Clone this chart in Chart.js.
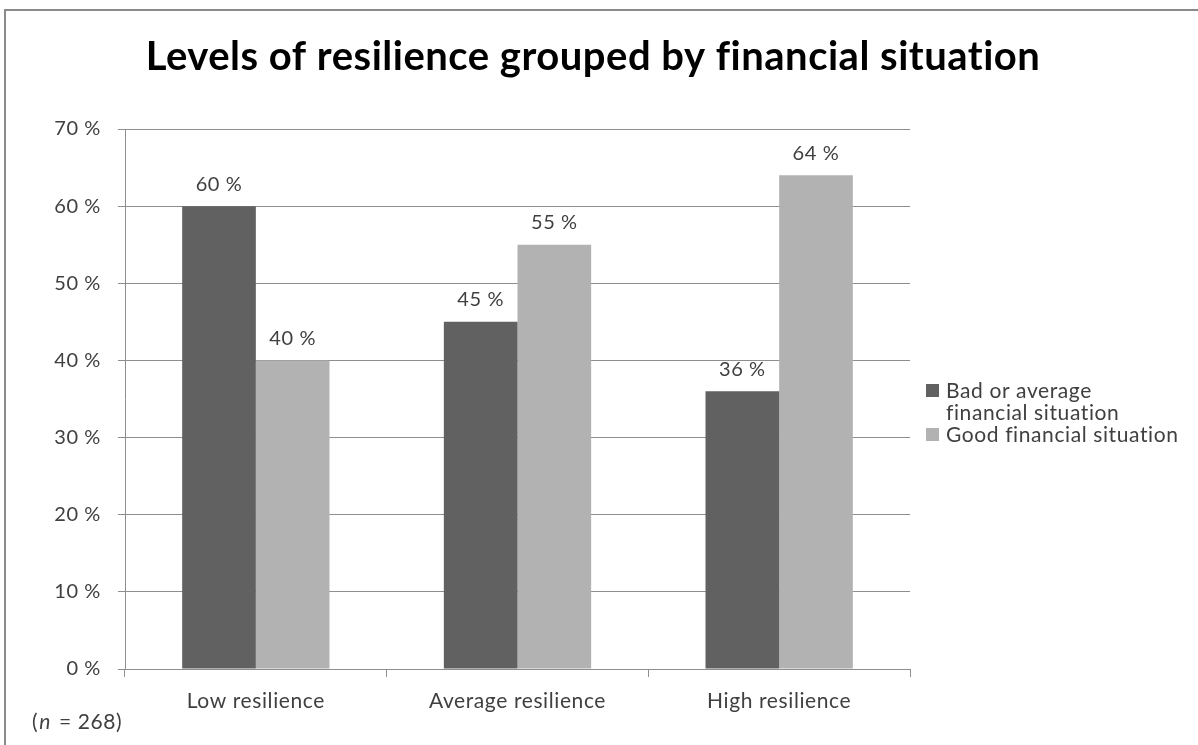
<!DOCTYPE html>
<html>
<head>
<meta charset="utf-8">
<script src="https://cdn.jsdelivr.net/npm/chart.js@4/dist/chart.umd.min.js"></script>
<style>
  html, body { margin: 0; padding: 0; background: #fff; }
  #wrap { position: relative; width: 1198px; height: 745px; }
</style>
</head>
<body>
<div id="wrap"><canvas id="c" width="1198" height="745"></canvas></div>
<script>
'use strict';

/* datos */
const categories = ['Low resilience', 'Average resilience', 'High resilience'];
const seriesNames = [['Bad or average', 'financial situation'], ['Good financial situation']];
const badOrAverage = [60, 45, 36];
const good = [40, 55, 64];
const yTicks = [0, 10, 20, 30, 40, 50, 60, 70];
const titleText = 'Levels of resilience grouped by financial situation';
const sampleNote = '268';

const FONT = 'Lato, "Open Sans", sans-serif';
const FS = 20;      // números
const FW = 21;      // textos
const DARK = '#616161';
const LIGHT = '#b2b2b2';
const INK = '#404040';
const GRID = '#8e8e8e';

/* sin ligaduras (fi) y un poco de espaciado */
const spacing = {
  id: 'spacing',
  beforeDraw(chart) { chart.ctx.letterSpacing = '0.6px'; }
};

/* etiquetas de valor sobre cada barra */
const valueLabels = {
  id: 'valueLabels',
  afterDatasetsDraw(chart) {
    const ctx = chart.ctx;
    ctx.save();
    ctx.font = FS + 'px ' + FONT;
    ctx.fillStyle = INK;
    ctx.textAlign = 'center';
    ctx.textBaseline = 'middle';
    chart.data.datasets.forEach((ds, i) => {
      chart.getDatasetMeta(i).data.forEach((bar, j) => {
        ctx.fillText(ds.data[j] + ' %', bar.x, bar.y - 22);
      });
    });
    ctx.restore();
  }
};

/* título, leyenda a la derecha, nota de muestra y marco */
const decor = {
  id: 'decor',
  afterDraw(chart) {
    const ctx = chart.ctx;
    ctx.save();
    // marco
    ctx.strokeStyle = '#8a8a8a';
    ctx.lineWidth = 2;
    ctx.beginPath();
    ctx.moveTo(5, 760); ctx.lineTo(5, 10); ctx.lineTo(1210, 10);
    ctx.stroke();
    // título
    ctx.fillStyle = '#000';
    ctx.font = 'bold 40px ' + FONT;
    ctx.letterSpacing = '0.5px';
    ctx.textAlign = 'center';
    ctx.textBaseline = 'middle';
    ctx.fillText(titleText, 593, 57);
    ctx.letterSpacing = '0.6px';
    // leyenda
    ctx.font = FW + 'px ' + FONT;
    ctx.textAlign = 'left';
    const cols = [DARK, LIGHT];
    let y = 391;
    seriesNames.forEach((lines, i) => {
      ctx.fillStyle = cols[i];
      ctx.fillRect(926, y - 7, 13, 13);
      ctx.fillStyle = INK;
      lines.forEach(t => { ctx.fillText(t, 946, y); y += 22; });
    });
    // (n = 268)
    let x = 32;
    ctx.fillStyle = INK;
    ctx.font = FW + 'px ' + FONT;
    ctx.fillText('(', x, 722); x += ctx.measureText('(').width + 1;
    ctx.font = 'italic ' + FW + 'px ' + FONT;
    ctx.fillText('n', x, 722); x += ctx.measureText('n').width + 2;
    ctx.font = FW + 'px ' + FONT;
    ctx.fillText(' = ' + sampleNote + ')', x, 722);
    ctx.restore();
  }
};

new Chart(document.getElementById('c'), {
  type: 'bar',
  data: {
    labels: categories,
    datasets: [
      { label: seriesNames[0].join(' '), data: badOrAverage, backgroundColor: DARK },
      { label: seriesNames[1].join(' '), data: good, backgroundColor: LIGHT },
    ],
  },
  options: {
    responsive: false,
    animation: false,
    events: [],
    layout: { padding: { top: 129, left: 0, right: 288, bottom: 0 } },
    datasets: { bar: { barPercentage: 1, categoryPercentage: 0.563 } },
    plugins: { legend: { display: false }, tooltip: { enabled: false }, title: { display: false } },
    scales: {
      x: {
        grid: { offset: true, drawOnChartArea: false, color: GRID, tickLength: 8 },
        border: { color: GRID },
        ticks: { color: INK, font: { family: FONT, size: FW }, padding: 12 },
        afterFit: s => { s.height = 76; },
      },
      y: {
        min: 0, max: 70,
        afterBuildTicks: s => { s.ticks = yTicks.map(v => ({ value: v })); },
        grid: { color: GRID, tickLength: 7 },
        border: { color: GRID },
        ticks: { color: INK, font: { family: FONT, size: FS }, padding: 17, callback: v => v + ' %' },
        afterFit: s => { s.width = 125; },
      },
    },
  },
  plugins: [spacing, valueLabels, decor],
});
</script>
</body>
</html>
